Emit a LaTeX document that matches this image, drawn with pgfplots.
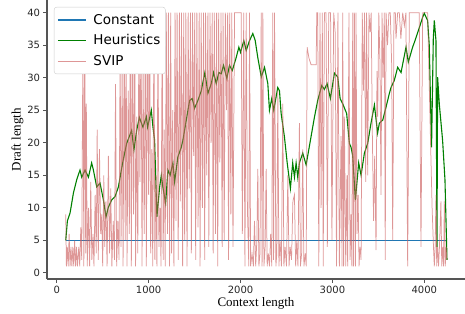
\documentclass[border=0pt]{standalone}
\usepackage{pgfplots}
\pgfplotsset{compat=1.18}
\usepackage{fontspec}
\setmainfont{Liberation Serif}
\newfontfamily\dejavu{DejaVu Sans}
\definecolor{cblue}{RGB}{31,119,180}
\definecolor{cgreen}{RGB}{0,128,0}
\definecolor{cpink}{RGB}{205,95,95}
\definecolor{spine}{RGB}{85,85,85}
\begin{document}
\begin{tikzpicture}
\useasboundingbox (-47bp,-35bp) rectangle (418bp,279bp);
\begin{axis}[
  at={(0,0)}, anchor=south west,
  scale only axis, width=418bp, height=279bp,
  xmin=-106, xmax=4443, ymin=-0.95, ymax=41.95,
  axis lines*=left,
  axis line style={spine, line width=1.3bp},
  every tick/.style={spine, line width=0.9bp},
  tick align=outside, major tick length=3.5bp,
  xtick={0,1000,2000,3000,4000},
  ytick={0,5,10,15,20,25,30,35,40},
  /pgf/number format/assume math mode=true,
  /pgf/number format/set thousands separator={},
  tick label style={font=\dejavu\fontsize{10bp}{12bp}\selectfont, text=black!85},
  xticklabel style={yshift=-0.5bp},
  xlabel={Context length}, ylabel={Draft length},
  label style={font=\fontsize{13bp}{15bp}\selectfont},
  xlabel style={yshift=3bp},
  ylabel style={yshift=-3bp},
  legend cell align=left,
  legend image code/.code={\draw[#1, line width=1.3bp] (0bp,0bp) -- (28bp,0bp);},
  legend style={at={(rel axis cs:0.0167,0.975)}, anchor=north west,
    draw=black!20, rounded corners=2.5bp, fill=white,
    font=\dejavu\fontsize{13.5bp}{15bp}\selectfont, row sep=5bp,
    inner xsep=3bp, inner ysep=5bp,
    /tikz/every odd column/.append style={column sep=5bp}},
]
\addplot[cblue, line width=1bp] coordinates {(98,5) (4247,5)};
\addlegendentry{Constant}
\addplot[cgreen, line width=1.1bp] coordinates {
(98,5) (116,8) (145,9.2) (182,12.3) (217,14.3) (253,15.8) (272,14.7) (308,15.8)
(345,14.7) (380,16.9) (399,15.8) (435,13.2) (471,13.8) (508,11.2) (536,8.6)
(562,10.1) (598,11.2) (634,11.7) (671,13.2) (717,16.9) (761,19.9) (815,21.9)
(840,18.9) (870,21.9) (899,23.9) (938,22.4) (975,24) (989,22.4) (1029,25)
(1047,22.4) (1065,20.4) (1090,8.6) (1120,13.2) (1138,15) (1155,13.2) (1185,10.7)
(1210,15.8) (1234,15) (1264,16.9) (1283,14) (1318,17.8) (1355,19.3) (1373,20.4)
(1410,23.5) (1446,26.5) (1475,26.8) (1500,25.3) (1536,26.5) (1573,28) (1612,30.8)
(1645,27.6) (1682,29.1) (1707,30.8) (1736,29.1) (1764,30.8) (1790,30.6) (1815,31.9)
(1851,29.9) (1880,31.9) (1910,31.1) (1953,33.1) (1982,34.7) (2000,33.9) (2036,35.7)
(2062,34.2) (2098,35.7) (2134,36.8) (2160,35.7) (2188,33.1) (2226,30.1) (2261,31.6)
(2297,29.1) (2315,25) (2340,26.8) (2362,25) (2405,28.5) (2424,28) (2442,24.5)
(2478,20.9) (2508,16.9) (2543,13) (2568,16.9) (2587,14.7) (2605,16.9) (2623,14.7)
(2641,16.9) (2677,18.4) (2714,16.6) (2761,20.4) (2804,23.9) (2840,26.5) (2884,28.8)
(2913,28.2) (2942,29.1) (2978,26.8) (3022,30.7) (3058,30.1) (3084,26.8) (3112,26)
(3155,24.5) (3185,19.9) (3203,19.3) (3220,18.1) (3250,11.2) (3286,16.9) (3312,15)
(3348,18.4) (3384,19.9) (3420,23) (3457,25.8) (3492,21.5) (3511,23) (3548,23.5)
(3584,25.5) (3620,27.6) (3638,28.5) (3674,29.6) (3710,31.6) (3747,30.8) (3801,34.7)
(3826,32.4) (3873,34.7) (3899,35.7) (3946,37.7) (3982,39.3) (4000,39.9) (4036,38.8)
(4054,35) (4079,19.3) (4098,36) (4109,38.8) (4127,35.7) (4138,4) (4145,30.1)
(4163,26) (4199,20.4) (4225,14.3) (4247,2)
};
\addlegendentry{Heuristics}
\addplot[cpink, line width=0.75bp, opacity=0.65] coordinates {
(98,9) (105,1) (115,4) (125,1) (135,6) (145,1) (155,4) (165,1) (175,4) (185,1)
(195,5) (205,1) (215,4) (225,1) (240,4) (250,1) (262,7) (272,2) (285,36) (295,1)
(305,40) (315,3) (322,26) (332,1) (345,10) (358,1) (370,14) (382,2) (395,6) (405,1)
(418,12) (430,3) (440,22) (452,2) (465,19) (478,6) (490,9) (500,1) (512,15) (522,4)
(535,11) (548,1) (562,18) (575,3) (588,13) (600,1) (615,8) (628,2) (640,29) (652,1)
(665,8) (678,2) (690,35) (700,4)
(712,33) (722,1) (735,40) (745,5) (755,37) (765,1) (778,28) (790,6) (800,40) (812,1)
(822,40) (835,9) (848,40) (858,1) (870,24) (882,3) (895,40) (905,14) (918,40) (928,1)
(940,31) (952,6) (965,40) (975,1) (988,40) (1000,12) (1012,40) (1022,3) (1035,19) (1045,1)
(1058,40) (1068,2) (1080,15) (1090,1) (1102,40) (1112,4) (1125,10) (1135,1) (1148,40) (1158,2)
(1170,22) (1180,1) (1192,40) (1205,6) (1215,40) (1228,1) (1240,40) (1250,3) (1262,25) (1275,1)
(1288,40) (1298,8) (1310,40) (1322,2) (1335,40) (1345,11) (1358,40) (1370,1) (1382,40) (1392,5)
(1405,40) (1418,1) (1430,40) (1442,13) (1455,40) (1465,3) (1478,40) (1490,18) (1502,40) (1512,2)
(1525,40) (1538,7) (1550,40) (1560,1) (1572,40) (1585,10) (1598,40) (1610,2) (1620,40) (1632,15)
(1645,40) (1655,4) (1668,40) (1680,20) (1692,40) (1702,3) (1715,40) (1728,6) (1740,40) (1752,1)
(1762,40) (1775,17) (1788,40) (1800,4) (1810,40) (1822,5) (1835,40) (1848,25) (1860,40) (1870,2)
(1882,40) (1895,9) (1905,40) (1918,4) (1935,40) (1960,40) (1985,40) (2007,40)
(2020,6) (2035,40) (2048,1) (2062,40) (2075,10) (2090,1) (2098,40) (2110,1) (2125,3) (2140,1)
(2152,8) (2165,1) (2178,5) (2188,16) (2200,1) (2212,3) (2225,40) (2235,1) (2243,40) (2255,1)
(2268,4) (2279,16) (2290,1) (2302,3) (2315,1) (2328,6) (2340,1) (2351,40) (2360,2) (2370,40)
(2385,1) (2395,3) (2406,28) (2418,1) (2430,5) (2445,1) (2460,26) (2472,1) (2485,4) (2500,1)
(2515,15) (2528,1) (2540,4) (2555,2) (2570,11) (2587,12) (2600,1) (2612,5) (2625,1) (2641,23)
(2652,1) (2665,3) (2677,19) (2690,1) (2705,3) (2715,1) (2725,34.7) (2745,33) (2768,32) (2795,32)
(2823,32) (2830,40) (2840,40) (2852,1) (2865,40) (2877,10) (2890,40) (2900,1) (2913,40) (2931,40)
(2945,4) (2960,40) (2980,40) (2995,5) (3014,40)
(3030,37) (3045,1) (3060,40) (3076,1) (3094,21) (3105,1) (3112,40) (3122,1) (3130,24) (3145,1)
(3158,15) (3166,1) (3180,40) (3192,2) (3203,9) (3212,1) (3221,40) (3230,1) (3239,40) (3250,1)
(3257,40) (3268,6) (3280,12) (3290,1) (3300,4) (3312,2) (3325,40) (3338,28) (3350,40) (3362,14)
(3372,40) (3384,15) (3398,40) (3410,37) (3422,40) (3435,21) (3448,8) (3460,18) (3475,3.5) (3485,31)
(3493,24) (3505,40) (3518,32) (3529,12) (3540,40) (3552,30) (3565,40) (3575,2) (3584,40) (3600,35)
(3615,40) (3630,40) (3645,32) (3656,5) (3670,40) (3685,40) (3692,36) (3710,40)
(3728,40) (3745,36) (3765,40) (3783,38) (3800,40) (3819,1) (3837,40) (3855,40) (3873,40) (3892,40)
(3910,40) (3928,40) (3945,40) (3964,4) (3982,40) (4000,40) (4018,40) (4036,40) (4060,25) (4085,10)
(4100,4) (4109,1) (4118,4) (4127,12) (4135,1) (4145,4) (4155,1) (4165,4) (4181,11) (4190,1)
(4200,4) (4210,1) (4218,11) (4228,1) (4238,4) (4247,2)
};
\addlegendentry{SVIP}
\end{axis}
\end{tikzpicture}
\end{document}
